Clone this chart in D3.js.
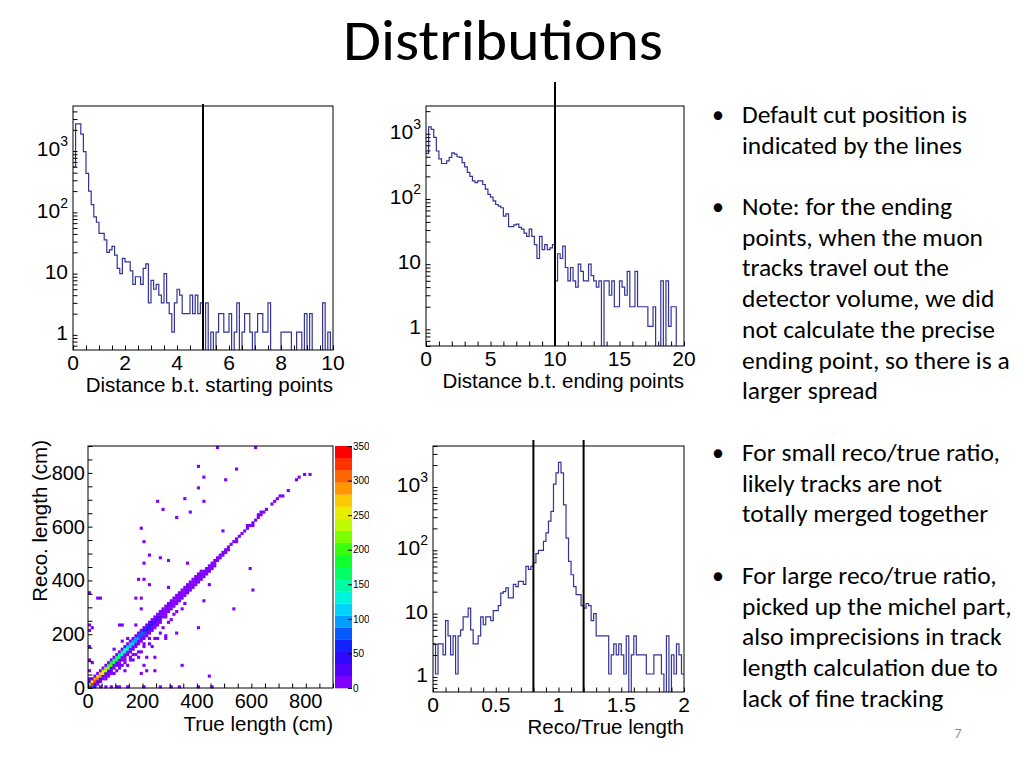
<!DOCTYPE html>
<html><head><meta charset="utf-8">
<script src="https://cdn.jsdelivr.net/npm/d3@7"></script>
<style>body{margin:0;background:#fff;} svg{display:block;}</style>
</head><body>
<svg id="c" width="1024" height="768"></svg>
<script>
// ---------------- DATA ----------------
const titleText = "Distributions";

// Distance between starting points: 100 bins on [0,10]
const startRange = [0, 10];
const startCounts = [500,2500,2500,1700,880,390,200,120,76,62,
  41,41,32,20,22,25,18,11,9,16,
  14,14,10,6,8,8,6,11,13,3,
  7,5,6,4,3,9,3,2,1,3,
  5,4,2,2,2,4,2,4,2,3,
  0,3,0,1,0,1,2,2,1,1,
  2,0,1,3,0,1,2,2,1,0,
  1,2,2,1,1,3,0,0,0,0,
  1,1,1,1,0,0,1,1,0,2,
  0,2,0,0,0,0,3,0,1,0];
const startCuts = [5];
const startTicks = [0,2,4,6,8,10];
const startTitle = "Distance b.t. starting points";

// Distance between ending points: 100 bins on [0,20]
const endRange = [0, 20];
const endCounts = [450,1150,1050,790,490,370,315,315,345,390,
  460,440,400,390,325,280,230,200,170,160,
  170,170,150,127,106,96,84,74,70,66,
  49,53,34,34,36,37,33,31,27,24,
  31,24,18,11,24,15,18,15,16,18,
  5,13,11,17,8,5,8,5,4,9,
  7,5,5,9,6,5,4,5,0,5,
  5,3,5,2,2,5,4,3,7,2,
  2,7,2,2,2,2,1,1,2,0,
  0,5,0,5,1,2,2,0,0,0];
const endCuts = [10];
const endTicks = [0,5,10,15,20];
const endTitle = "Distance b.t. ending points";

// Reco/True length ratio: 100 bins on [0,2]
const ratioRange = [0, 2];
const ratioCounts = [3,1,3,3,2,7,4,2,4,1,
  4,5,8,8,11,5,3,3,4,8,
  6,8,8,7,10,10,12,19,20,23,
  16,16,26,24,29,29,26,50,45,50,
  57,80,90,90,125,170,260,370,1000,1500,
  2200,1500,470,140,60,37,24,18,18,12,
  11,13,12,7,9,4,4,4,4,4,
  1,2,3,2,3,2,1,4,0,2,
  4,2,2,2,2,1,1,1,2,2,
  2,1,0,4,0,2,1,3,2,1];
const ratioCuts = [0.8, 1.2];
const ratioTicks = [0,0.5,1,1.5,2];
const ratioTitle = "Reco/True length";

const logTicks = [1,10,100,1000];

// 2D: reco vs true length, cells [true bin low edge (cm), reco bin low edge (cm), entries]
const lenBinWidth = 10;
const lenRange = [0, 900];
const lenTicks = [0,200,400,600,800];
const zTicks = [0,50,100,150,200,250,300,350];
const zRange = [0, 350];
const lenXTitle = "True length (cm)";
const lenYTitle = "Reco. length (cm)";
const lenCells = [
 [0,0,340],[0,10,200],[0,20,30],[0,30,5],
 [10,0,80],[10,10,330],[10,20,260],[10,30,20],
 [20,0,40],[20,10,50],[20,20,320],[20,30,280],[20,40,15],
 [30,20,40],[30,30,300],[30,40,270],[30,50,12],[30,10,8],
 [40,30,35],[40,40,280],[40,50,250],[40,60,10],[40,20,6],
 [50,40,30],[50,50,260],[50,60,230],[50,70,8],[50,30,6],
 [60,50,28],[60,60,240],[60,70,215],[60,80,8],[60,40,5],
 [70,60,25],[70,70,220],[70,80,200],[70,90,6],[70,50,5],
 [80,70,22],[80,80,200],[80,90,185],[80,100,6],[80,60,6],[80,50,3],
 [90,80,20],[90,90,190],[90,100,170],[90,110,5],[90,70,5],
 [100,90,18],[100,100,175],[100,110,160],[100,120,5],[100,80,6],
 [110,100,16],[110,110,160],[110,120,150],[110,130,4],[110,90,5],[110,80,3],
 [120,110,15],[120,120,150],[120,130,140],[120,140,4],[120,100,6],
 [130,120,14],[130,130,140],[130,140,130],[130,150,4],[130,110,6],[130,100,3],
 [140,130,14],[140,140,130],[140,150,120],[140,160,4],[140,120,5],
 [150,140,13],[150,150,120],[150,160,110],[150,170,3],[150,130,6],[150,110,3],
 [160,150,12],[160,160,110],[160,170,100],[160,180,3],[160,140,5],[160,120,2],
 [170,160,11],[170,170,100],[170,180,95],[170,190,3],[170,150,6],
 [180,170,10],[180,180,95],[180,190,85],[180,200,3],[180,160,5],[180,130,2],
 [190,180,10],[190,190,85],[190,200,75],[190,210,3],[190,170,5],
 [200,190,9],[200,200,75],[200,210,65],[200,220,3],[200,180,5],[200,160,2],
 [210,200,9],[210,210,65],[210,220,55],[210,230,2],[210,190,5],
 [220,210,8],[220,220,55],[220,230,45],[220,240,2],[220,200,4],[220,180,2],
 [230,220,8],[230,230,45],[230,240,38],[230,250,2],[230,210,4],
 [240,230,7],[240,240,38],[240,250,30],[240,260,2],[240,220,3],
 [250,240,6],[250,250,30],[250,260,22],[250,270,2],[250,230,3],
 [260,250,6],[260,260,22],[260,270,17],[260,280,2],[260,240,3],
 [270,260,5],[270,270,17],[270,280,14],[270,290,2],
 [280,270,5],[280,280,14],[280,290,12],[280,300,2],[280,260,2],
 [290,280,4],[290,290,12],[290,300,10],[290,310,2],
 [300,290,4],[300,300,10],[300,310,9],[300,320,2],
 [310,300,3],[310,310,9],[310,320,8],[310,330,1],
 [320,310,3],[320,320,8],[320,330,7],[320,340,1],
 [330,320,3],[330,330,7],[330,340,6],[330,350,1],
 [340,330,2],[340,340,6],[340,350,6],[340,360,1],
 [350,340,2],[350,350,6],[350,360,5],[350,370,1],
 [360,350,2],[360,360,5],[360,370,5],[360,380,1],
 [370,360,2],[370,370,5],[370,380,4],[370,390,1],
 [380,370,2],[380,380,4],[380,390,4],[380,400,1],
 [390,380,1],[390,390,4],[390,400,3],[390,410,1],
 [400,390,1],[400,400,3],[400,410,3],[400,420,1],
 [410,400,1],[410,410,3],[410,420,3],[410,430,1],
 [420,410,1],[420,420,3],[420,430,2],
 [430,420,1],[430,430,2],[430,440,2],
 [440,430,1],[440,440,2],[440,450,2],
 [450,440,1],[450,450,2],[450,460,2],
 [460,450,1],[460,460,2],[460,470,1],
 [470,470,2],[470,480,1],[480,480,2],[480,490,1],
 [490,490,2],[490,500,1],[500,500,2],[500,510,1],
 [510,510,1],[510,520,1],
 [520,530,1],[530,540,1],[540,540,1],[540,550,1],[550,560,1],
 [560,570,1],[570,580,1],[580,590,1],[580,600,1],[590,600,1],
 [600,600,1],[600,610,1],[610,620,1],[620,630,1],[620,640,1],
 [630,640,1],[630,650,1],[640,650,1],[650,660,1],
 [670,680,1],[680,690,1],[690,700,1],[700,710,1],[710,710,1],
 [730,730,1],[760,770,1],[770,780,1],[790,790,1],[810,790,1],
 [470,890,1],[610,890,1],[400,820,1],[540,810,1],[420,780,1],[500,770,1],
 [400,740,1],[250,690,1],[270,660,1],[350,700,1],[420,690,1],[370,650,1],
 [320,630,1],[490,580,1],[190,590,1],[200,540,1],[220,490,1],[260,480,1],
 [290,470,1],[200,460,1],[360,460,1],[590,440,1],[200,400,1],[220,380,1],
 [180,400,1],[440,380,1],[290,370,1],[600,360,1],[30,330,1],[170,330,1],
 [190,330,1],[420,320,1],[190,290,1],[530,290,1],[0,350,1],[120,230,1],
 [0,230,1],[10,220,1],[0,210,1],[400,220,1],[320,200,1],[440,40,1],
 [110,230,1],[170,230,1],[40,330,1],[140,180,1],[120,170,1],[90,140,1],
 [180,110,2],[190,130,2],[230,150,1],[250,180,2],[280,180,1],[280,190,1],
 [240,110,1],[210,110,1],[200,80,1],[140,80,2],[130,60,1],[190,50,1],
 [210,60,1],[240,60,1],[340,80,1],[450,0,1],[150,100,3],[170,120,2],
 [200,150,3],[220,160,2],[240,180,2],[260,200,2],[270,220,1],[290,240,1],
 [300,250,2],[310,270,1],[320,280,1],[340,290,1],[350,310,1],[100,60,2],
 [120,80,3],[160,100,2],[60,30,3],[70,40,2],[90,50,2],[110,70,3],[130,90,2],
 [40,0,2],[60,0,1],[80,0,1],[100,0,2],[110,0,1],[140,0,1],[200,0,1],
 [260,0,1],[300,0,1],[330,0,1],[400,0,1],[0,100,1],[0,150,1],[0,60,3],[10,90,1]
];

const bullets = [
  {y:115, lines:["Default cut position is","indicated by the lines"]},
  {y:207, lines:["Note: for the ending","points, when the muon","tracks travel out the","detector volume, we did","not calculate the precise","ending point, so there is a","larger spread"]},
  {y:453, lines:["For small reco/true ratio,","likely tracks are not","totally merged together"]},
  {y:576, lines:["For large reco/true ratio,","picked up the michel part,","also imprecisions in track","length calculation due to","lack of fine tracking"]}
];
const pageNumber = "7";

// ---------------- DRAWING ----------------
const svg = d3.select("#c");
const AX = "'Liberation Sans', Arial, Helvetica, sans-serif";
const SLIDE = "Carlito, Lato, 'Open Sans', sans-serif";
const HIST = "#333399";
const TICKF = 21;
const TITF = 20.5;

svg.append("rect").attr("width",1024).attr("height",768).attr("fill","#fff");

svg.append("text").attr("x",503).attr("y",60).attr("text-anchor","middle")
  .attr("font-family",SLIDE).attr("font-size",58).attr("textLength",320).attr("lengthAdjust","spacingAndGlyphs")
  .attr("fill","#000").text(titleText);

let clipId = 0;
function logHist(o) {
  const g = svg.append("g");
  const x = d3.scaleLinear().domain(o.range).range([o.x0, o.x1]);
  const y = d3.scaleLog().domain(o.yDomain).range([o.y1, o.y0]);
  const id = "clip" + (clipId++);
  g.append("clipPath").attr("id", id).append("rect")
    .attr("x", o.x0).attr("y", o.y0).attr("width", o.x1-o.x0).attr("height", o.y1-o.y0);
  const n = o.counts.length, w = (o.range[1]-o.range[0])/n;
  const pts = o.counts.map((c,i)=>[o.range[0]+i*w, c]);
  pts.push([o.range[1], o.counts[n-1]]);
  const line = d3.line().curve(d3.curveStepAfter)
    .x(d=>x(d[0])).y(d=> d[1]>0 ? y(d[1]) : o.y1+3);
  g.append("path").attr("d", line(pts)).attr("fill","none").attr("stroke",HIST)
    .attr("stroke-width",1.2).attr("clip-path",`url(#${id})`);
  g.append("rect").attr("x",o.x0).attr("y",o.y0).attr("width",o.x1-o.x0).attr("height",o.y1-o.y0)
    .attr("fill","none").attr("stroke","#000").attr("stroke-width",1);
  const minor = [];
  for (let d=-1; d<=4; d++) for (let m=2; m<=9; m++) { const v=m*Math.pow(10,d); if (v>=o.yDomain[0] && v<=o.yDomain[1]) minor.push(v); }
  const ya = g.append("g").attr("transform",`translate(${o.x0},0)`);
  ya.call(d3.axisLeft(y).tickValues(logTicks).tickSize(-9).tickFormat(""));
  ya.call(d3.axisLeft(y).tickValues(minor).tickSize(-4.5).tickFormat(""));
  ya.selectAll(".domain").remove();
  ya.selectAll("line").attr("stroke","#000");
  logTicks.forEach(v=>{
    const t = g.append("text").attr("x",o.x0-5).attr("y",y(v)+8).attr("text-anchor","end")
      .attr("font-family",AX).attr("font-size",TICKF).attr("fill","#000");
    if (v>=100) { t.append("tspan").text("10"); t.append("tspan").attr("dy",-10).attr("font-size",14).text(String(Math.round(Math.log10(v)))); }
    else t.text(String(v));
  });
  const xa = g.append("g").attr("transform",`translate(0,${o.y1})`);
  xa.call(d3.axisBottom(x).tickValues(o.ticks).tickSize(-9).tickFormat(""));
  xa.call(d3.axisBottom(x).tickValues(d3.range(o.range[0], o.range[1]+1e-9, o.minor)).tickSize(-4.5).tickFormat(""));
  xa.selectAll(".domain").remove();
  xa.selectAll("line").attr("stroke","#000");
  o.ticks.forEach(v=>{
    g.append("text").attr("x",x(v)).attr("y",o.y1+20).attr("text-anchor","middle")
      .attr("font-family",AX).attr("font-size",TICKF).text(String(v));
  });
  g.append("text").attr("x",o.x1).attr("y",o.y1+42).attr("text-anchor","end")
    .attr("font-family",AX).attr("font-size",TITF).text(o.title);
  o.cuts.forEach(c=>{
    g.append("line").attr("x1",x(c)).attr("x2",x(c)).attr("y1",o.cutTop).attr("y2",o.y1)
      .attr("stroke","#000").attr("stroke-width",2);
  });
}

logHist({x0:73,x1:333,y0:106,y1:350,yDomain:[0.51,4900],range:startRange,counts:startCounts,
  cuts:startCuts,cutTop:104,ticks:startTicks,minor:0.5,title:startTitle});
logHist({x0:426,x1:684,y0:106,y1:346,yDomain:[0.5,2400],range:endRange,counts:endCounts,
  cuts:endCuts,cutTop:82,ticks:endTicks,minor:1,title:endTitle});
logHist({x0:433,x1:684,y0:446,y1:692,yDomain:[0.52,4000],range:ratioRange,counts:ratioCounts,
  cuts:ratioCuts,cutTop:440,ticks:ratioTicks,minor:0.1,title:ratioTitle});

// ---- 2D histogram ----
(function(){
  const x0=88,x1=333,y0=446,y1=688;
  const F2 = 20;
  const g = svg.append("g");
  const x = d3.scaleLinear().domain(lenRange).range([x0,x1]);
  const y = d3.scaleLinear().domain(lenRange).range([y1,y0]);
  const stops = ["#7f00ff","#3c00ff","#0a1aff","#0090ff","#00f0ff","#00ffb0","#00ff40","#30ff00","#b0ff00","#fff200","#ffa000","#ff5000","#ff0000"];
  const nCol = 20;
  const interp = d3.interpolateRgbBasis(stops);
  const pal = d3.range(nCol).map(i=>interp(i/(nCol-1)));
  const z = d3.scaleQuantize().domain(zRange).range(pal);
  g.selectAll("rect.cell").data(lenCells).join("rect").attr("class","cell")
    .attr("x",d=>x(d[0])).attr("y",d=>y(d[1]+lenBinWidth))
    .attr("width",d=>x(d[0]+lenBinWidth)-x(d[0])+0.4)
    .attr("height",d=>y(d[1])-y(d[1]+lenBinWidth)+0.4)
    .attr("fill",d=>z(Math.min(d[2],zRange[1]-0.01)));
  g.append("rect").attr("x",x0).attr("y",y0).attr("width",x1-x0).attr("height",y1-y0)
    .attr("fill","none").attr("stroke","#000").attr("stroke-width",1);
  const ya = g.append("g").attr("transform",`translate(${x0},0)`);
  ya.call(d3.axisLeft(y).tickValues(lenTicks).tickSize(-9).tickFormat(""));
  ya.call(d3.axisLeft(y).tickValues(d3.range(0,901,50)).tickSize(-4.5).tickFormat(""));
  ya.selectAll(".domain").remove();
  const xa = g.append("g").attr("transform",`translate(0,${y1})`);
  xa.call(d3.axisBottom(x).tickValues(lenTicks).tickSize(-9).tickFormat(""));
  xa.call(d3.axisBottom(x).tickValues(d3.range(0,901,50)).tickSize(-4.5).tickFormat(""));
  xa.selectAll(".domain").remove();
  g.selectAll("line").attr("stroke","#000");
  lenTicks.forEach(v=>{
    g.append("text").attr("x",x0-3).attr("y",y(v)+7).attr("text-anchor","end")
      .attr("font-family",AX).attr("font-size",F2).text(String(v));
    g.append("text").attr("x",x(v)).attr("y",y1+20).attr("text-anchor","middle")
      .attr("font-family",AX).attr("font-size",F2).text(String(v));
  });
  g.append("text").attr("x",x1).attr("y",y1+43).attr("text-anchor","end")
    .attr("font-family",AX).attr("font-size",TITF).text(lenXTitle);
  g.append("text").attr("transform",`translate(47,${y0-6}) rotate(-90)`).attr("text-anchor","end")
    .attr("font-family",AX).attr("font-size",TITF).text(lenYTitle);
  // colour bar
  const cb0=335, cb1=352;
  const zy = d3.scaleLinear().domain(zRange).range([y1,y0]);
  g.selectAll("rect.cb").data(pal).join("rect").attr("class","cb")
    .attr("x",cb0).attr("width",cb1-cb0)
    .attr("y",d=>zy(z.invertExtent(d)[1])).attr("height",d=>zy(z.invertExtent(d)[0])-zy(z.invertExtent(d)[1])+0.3)
    .attr("fill",d=>d);
  const za = g.append("g").attr("transform",`translate(${cb1},0)`);
  za.append("clipPath").attr("id","cbclip").append("rect").attr("x",-20).attr("y",430).attr("width",37).attr("height",280);
  za.attr("clip-path","url(#cbclip)");
  za.call(d3.axisRight(zy).tickValues(zTicks).tickSize(-4).tickPadding(1).tickFormat(d3.format("d")));
  za.select(".domain").remove();
  za.selectAll("line").attr("stroke","#000");
  za.selectAll("text").attr("font-family",AX).attr("font-size",10).attr("fill","#000");
})();

// ---- bullet text ----
const LH = 30.7;
bullets.forEach(b=>{
  svg.append("text").attr("x",712).attr("y",b.y+8).attr("font-family",SLIDE).attr("font-size",24).text("•");
  b.lines.forEach((l,i)=>{
    svg.append("text").attr("x",742).attr("y",b.y+i*LH+8).attr("font-family",SLIDE)
      .attr("font-size",25.5).attr("fill","#000").text(l);
  });
});
svg.append("text").attr("x",958).attr("y",738).attr("text-anchor","middle").attr("font-family",SLIDE)
  .attr("font-size",14).attr("fill","#8a8a8a").text(pageNumber);
</script>
</body></html>
